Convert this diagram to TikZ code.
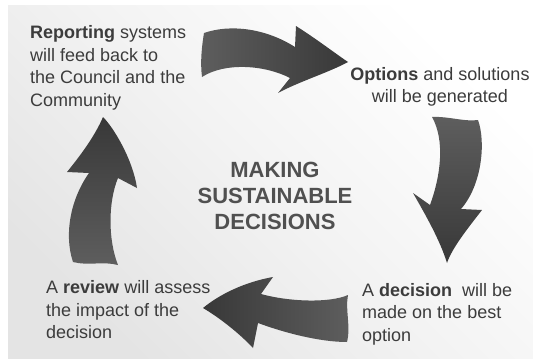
\documentclass[tikz,border=0pt]{standalone}
\usepackage{fontspec}
\setmainfont{Liberation Sans}
\definecolor{bgdark}{HTML}{E4E4E4}
\definecolor{txt}{HTML}{3C3C3C}
\definecolor{tail}{HTML}{5E5E5E}
\definecolor{head}{HTML}{383838}
\begin{document}
\begin{tikzpicture}[x=1pt,y=-1pt,
  lbl/.style={inner sep=0pt, text=txt, font=\fontsize{18}{22.5}\selectfont},
  ttl/.style={inner sep=0pt, text=txt!90!white, font=\fontsize{22}{26}\selectfont\bfseries, align=center},
  arr/.style={draw=none}]
\useasboundingbox (0,0) rectangle (533,359);
\fill[white] (0,0) rectangle (533,359);
\shade[bottom color=bgdark, top color=white, middle color=bgdark!45!white, shading angle=-45] (8,5) rectangle (533,358);

% top arrow: Reporting -> Options
\path[arr, left color=tail, right color=head]
  (204,33) .. controls (230,24) and (265,28) .. (295,47)
  -- (296,26)
  .. controls (318,40) and (336,54) .. (348,62)
  .. controls (330,72) and (298,82) .. (278,93)
  -- (290,78)
  .. controls (265,65) and (225,62) .. (202,77)
  .. controls (200,62) and (202,45) .. (204,33) -- cycle;

% right arrow: Options -> decision
\path[arr, top color=tail, bottom color=head]
  (432,117) .. controls (447,116) and (465,122) .. (478,120)
  .. controls (486,142) and (482,185) .. (461,209)
  -- (482,210)
  .. controls (468,228) and (452,248) .. (447,263)
  .. controls (440,240) and (425,214) .. (413,193)
  -- (430,205)
  .. controls (441,175) and (445,140) .. (432,117) -- cycle;

% bottom arrow: decision -> review
\path[arr, left color=head, right color=tail]
  (348,295) .. controls (330,303) and (290,302) .. (261,294)
  -- (273,277)
  .. controls (245,282) and (220,294) .. (203,308)
  .. controls (220,318) and (240,334) .. (253,348)
  -- (258,323)
  .. controls (285,333) and (320,342) .. (347,342)
  .. controls (351,326) and (345,310) .. (348,295) -- cycle;

% left arrow: review -> Reporting
\path[arr, top color=head, bottom color=tail]
  (73,262) .. controls (64,235) and (70,200) .. (89,173)
  -- (67,172)
  .. controls (80,156) and (95,136) .. (103,117)
  .. controls (114,128) and (133,160) .. (137,188)
  -- (118,178)
  .. controls (108,202) and (108,240) .. (118,265)
  .. controls (103,261) and (88,266) .. (73,262) -- cycle;

\node[lbl, anchor=west, align=left] (rep) at (30,68)
  {\textbf{Reporting} systems\\will feed back to\\the Council and the\\Community};
\node[lbl, anchor=center, align=center] (opt) at (440,87)
  {\textbf{Options} and solutions\\will be generated};
\node[lbl, anchor=west, align=left] (dec) at (362,314)
  {A \textbf{decision}\ \ will be\\made on the best\\option};
\node[lbl, anchor=west, align=left] (rev) at (46,310)
  {A \textbf{review} will assess\\the impact of the\\decision};
\node[ttl] (title) at (275,196) {MAKING\\SUSTAINABLE\\DECISIONS};
\end{tikzpicture}
\end{document}
